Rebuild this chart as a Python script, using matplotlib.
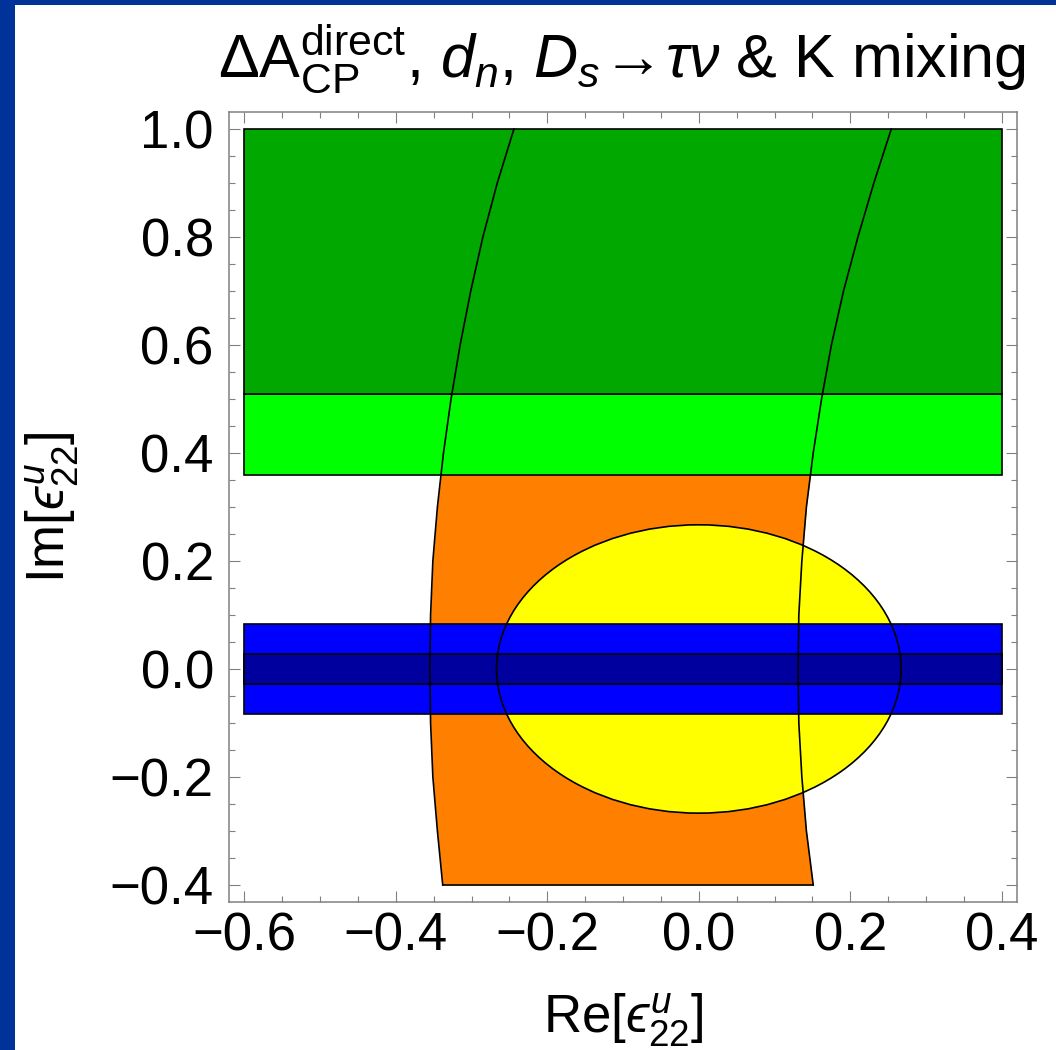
import matplotlib.pyplot as plt
from matplotlib.patches import Rectangle, Ellipse

plt.rcParams['font.family'] = ['Liberation Sans', 'DejaVu Sans']
plt.rcParams['mathtext.fontset'] = 'custom'
plt.rcParams['mathtext.rm'] = 'Liberation Sans'
plt.rcParams['mathtext.it'] = 'Liberation Sans:italic'
plt.rcParams['mathtext.fallback'] = 'stixsans'

# band limits (x range shared by the horizontal bands)
band_x = [-0.6, 0.4]
dark_green_y = [0.51, 1.0]
light_green_y = [0.36, 0.51]
blue_outer_y = [-0.084, 0.084]
blue_inner_y = [-0.028, 0.028]

# yellow disc (d_n)
disc_center = (0.0, 0.0)
disc_radius = 0.267

# orange region (D_s -> tau nu) boundaries read along y
curve_y = [-0.4, -0.3, -0.2, -0.1, 0.0, 0.1, 0.2, 0.3, 0.4, 0.5, 0.6, 0.7, 0.8, 0.9, 1.0]
left_x = [-0.338, -0.345, -0.351, -0.354, -0.355, -0.354, -0.351, -0.345, -0.337,
          -0.327, -0.315, -0.301, -0.285, -0.266, -0.244]
right_x = [0.151, 0.142, 0.136, 0.132, 0.131, 0.132, 0.136, 0.142, 0.151,
           0.162, 0.175, 0.191, 0.210, 0.231, 0.254]

xticks = [-0.6, -0.4, -0.2, 0.0, 0.2, 0.4]
yticks = [-0.4, -0.2, 0.0, 0.2, 0.4, 0.6, 0.8, 1.0]

fig = plt.figure(figsize=(10.56, 10.50), dpi=100, facecolor='#003399')
fig.patches.append(Rectangle((15 / 1056, 0), 1 - 15 / 1056, 1 - 5 / 1050,
                             transform=fig.transFigure, facecolor='white',
                             edgecolor='none', zorder=-10))
ax = fig.add_axes([0.2169, 0.1410, 0.7462, 0.7523])
ax.set_facecolor('white')

lw = 1.2
# orange
ax.fill_betweenx(curve_y, left_x, right_x, color='#FF8000', zorder=1, linewidth=0)
# yellow
ax.add_patch(Ellipse(disc_center, 2 * disc_radius, 2 * disc_radius,
                     facecolor='#FFFF00', edgecolor='none', zorder=2))
# blue bands
ax.add_patch(Rectangle((band_x[0], blue_outer_y[0]), band_x[1] - band_x[0],
                       blue_outer_y[1] - blue_outer_y[0], facecolor='#0000FF',
                       edgecolor='black', linewidth=lw, zorder=3))
ax.add_patch(Rectangle((band_x[0], blue_inner_y[0]), band_x[1] - band_x[0],
                       blue_inner_y[1] - blue_inner_y[0], facecolor='#00009E',
                       edgecolor='black', linewidth=lw, zorder=3))
# green bands
ax.add_patch(Rectangle((band_x[0], light_green_y[0]), band_x[1] - band_x[0],
                       light_green_y[1] - light_green_y[0], facecolor='#00FF00',
                       edgecolor='black', linewidth=lw, zorder=3))
ax.add_patch(Rectangle((band_x[0], dark_green_y[0]), band_x[1] - band_x[0],
                       dark_green_y[1] - dark_green_y[0], facecolor='#00A800',
                       edgecolor='black', linewidth=lw, zorder=3))

# outlines on top
ax.add_patch(Ellipse(disc_center, 2 * disc_radius, 2 * disc_radius,
                     facecolor='none', edgecolor='black', linewidth=lw, zorder=5))
ax.plot(left_x, curve_y, color='black', lw=lw, zorder=5)
ax.plot(right_x, curve_y, color='black', lw=lw, zorder=5)
ax.plot([left_x[0], right_x[0]], [curve_y[0], curve_y[0]], color='black', lw=lw, zorder=5)

ax.set_xlim(-0.62, 0.42)
ax.set_ylim(-0.4315, 1.0315)
ax.set_xticks(xticks)
ax.set_yticks(yticks)
ax.set_xticks([v / 100 for v in range(-60, 41, 5)], minor=True)
ax.set_yticks([v / 100 for v in range(-40, 101, 5)], minor=True)
ax.set_xticklabels(['\u22120.6', '\u22120.4', '\u22120.2', '0.0', '0.2', '0.4'])
ax.set_yticklabels(['\u22120.4', '\u22120.2', '0.0', '0.2', '0.4', '0.6', '0.8', '1.0'])

gray = '#808080'
for s in ax.spines.values():
    s.set_color(gray)
    s.set_linewidth(1.1)
ax.tick_params(which='both', direction='in', top=True, right=True, color=gray,
               width=0.8, labelsize=38, labelcolor='black')
ax.tick_params(which='major', length=8)
ax.tick_params(which='minor', length=4.5)
ax.tick_params(axis='x', pad=7)
ax.tick_params(axis='y', pad=11)

ax.set_xlabel('Re[$\u03f5^{u}_{22}$]', fontsize=38)
ax.set_ylabel('Im[$\u03f5^{u}_{22}$]', fontsize=38)
ax.xaxis.set_label_coords(0.5, -0.113)
ax.yaxis.set_label_coords(-0.186, 0.5)

fig.text(0.5895, 1 - 77 / 1050,
         r'$\Delta\mathrm{A}^{\mathrm{direct}}_{\mathrm{CP}}$, $d_n$, '
         r'$D_s\!\rightarrow\!\tau\nu$ & K mixing',
         fontsize=44, ha='center', va='baseline')

fig.savefig('out.png', dpi=100, facecolor=fig.get_facecolor())
